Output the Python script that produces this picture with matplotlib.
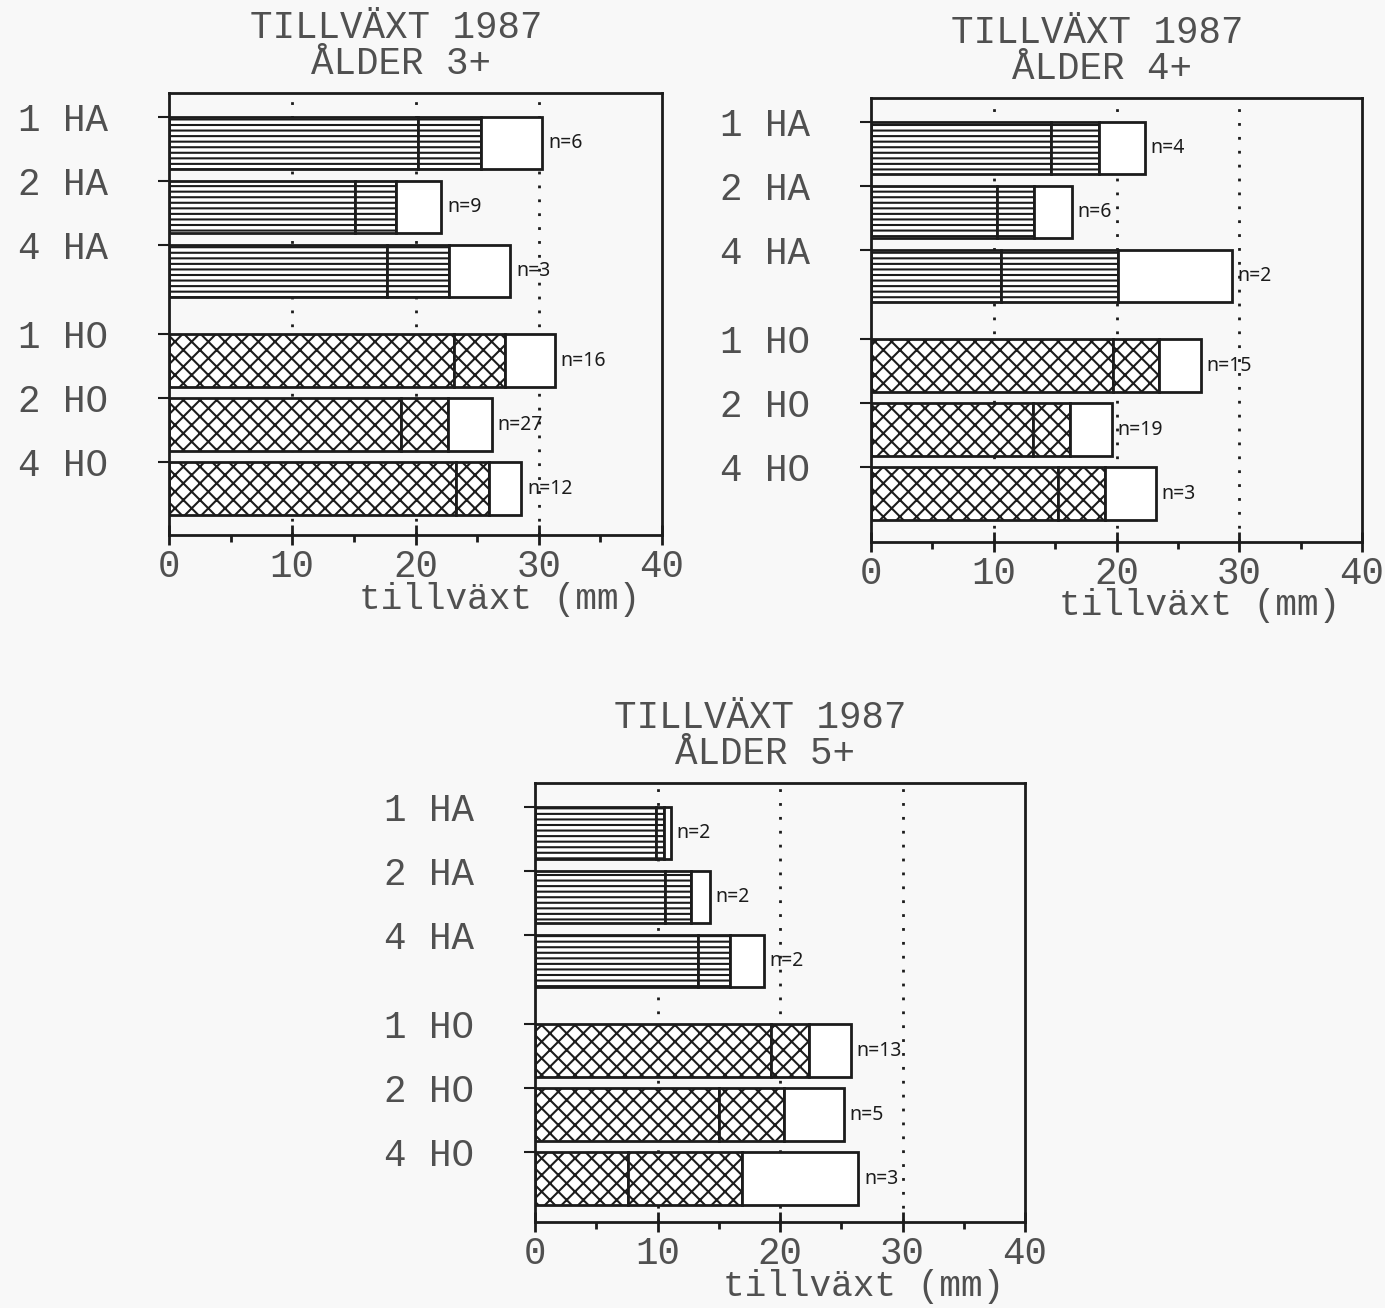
import matplotlib.pyplot as plt
import numpy as np

plt.rcParams['font.family'] = ['Liberation Mono', 'DejaVu Sans Mono']
plt.rcParams['hatch.linewidth'] = 1.5

groups = ['1 HA', '2 HA', '4 HA', '1 HO', '2 HO', '4 HO']

# segment limits in mm (end of first part, end of second part, total)
low_3 = [20.2, 15.1, 17.7, 23.1, 18.8, 23.3]
mid_3 = [25.3, 18.4, 22.7, 27.3, 22.6, 26.0]
high_3 = [30.3, 22.1, 27.7, 31.3, 26.2, 28.6]
n_3 = [6, 9, 3, 16, 27, 12]

low_4 = [14.7, 10.3, 10.6, 19.7, 13.2, 15.2]
mid_4 = [18.6, 13.3, 20.1, 23.5, 16.2, 19.1]
high_4 = [22.3, 16.4, 29.4, 26.9, 19.6, 23.2]
n_4 = [4, 6, 2, 15, 19, 3]

low_5 = [9.9, 10.6, 13.3, 19.3, 15.0, 7.6]
mid_5 = [10.5, 12.7, 15.9, 22.4, 20.3, 16.9]
high_5 = [11.1, 14.3, 18.7, 25.8, 25.2, 26.4]
n_5 = [2, 2, 2, 13, 5, 3]

ink = '#1c1c1c'
txt = '#505050'
paper = '#f8f8f8'

W, H = 1385, 1308
fig = plt.figure(figsize=(W / 100, H / 100), dpi=100, facecolor=paper)


def panel(box, age, low, mid, high, n):
    x0, y0, x1, y1 = box
    ax = fig.add_axes([x0 / W, 1 - y1 / H, (x1 - x0) / W, (y1 - y0) / H])
    ax.set_facecolor('none')
    ax_h = y1 - y0

    idx = np.arange(len(groups))
    tops = idx + 0.37 + np.where(idx >= 3, 0.4, 0.0)
    h = 0.82
    hatches = ['---' if g.endswith('HA') else 'xx' for g in groups]

    for v in (10, 20, 30):
        ax.axvline(v, color=ink, ls=(0, (1, 4)), lw=2, zorder=1)

    for i in idx:
        style = dict(height=h, align='edge', edgecolor=ink, linewidth=2, zorder=2)
        ax.barh(tops[i], low[i], facecolor='white', hatch=hatches[i], **style)
        ax.barh(tops[i], mid[i] - low[i], left=low[i], facecolor='white',
                hatch=hatches[i], **style)
        ax.barh(tops[i], high[i] - mid[i], left=mid[i], facecolor='white', **style)
        ax.text(high[i] + 0.45, tops[i] + h / 2, f'n={n[i]}', family='Noto Sans',
                fontsize=14, color=ink, va='center', ha='left')

    ax.set_xlim(0, 40)
    ax.set_ylim(ax_h / 64, 0)
    ax.set_xticks([0, 10, 20, 30, 40])
    ax.set_xticks([5, 15, 25, 35], minor=True)
    ax.set_yticks(tops)
    ax.set_yticklabels(groups)
    ax.tick_params(axis='x', which='major', direction='inout', length=14, width=2,
                   pad=3, labelsize=27, color=ink, labelcolor=txt)
    ax.tick_params(axis='x', which='minor', direction='out', length=5, width=2, color=ink)
    ax.tick_params(axis='y', direction='out', length=8, width=1.5, pad=36,
                   labelsize=27, color=ink, labelcolor=txt)
    for s in ax.spines.values():
        s.set_linewidth(2)
        s.set_color(ink)

    ax.set_xlabel('tillväxt (mm)', fontsize=26, color=txt, va='center')
    ax.xaxis.set_label_coords(0.67, -64 / ax_h)

    ax.text(0.46, 1 + 65 / ax_h, 'TILLVÄXT 1987', transform=ax.transAxes,
            ha='center', va='center', fontsize=27, color=txt)
    ax.text(0.47, 1 + 29 / ax_h, f'ÅLDER {age}', transform=ax.transAxes,
            ha='center', va='center', fontsize=27, color=txt)
    return ax


panel((169, 93, 662, 535), '3+', low_3, mid_3, high_3, n_3)
panel((871, 98, 1362, 542), '4+', low_4, mid_4, high_4, n_4)
panel((535, 783, 1025, 1222), '5+', low_5, mid_5, high_5, n_5)

fig.savefig('out.png', dpi=100, facecolor=paper)
